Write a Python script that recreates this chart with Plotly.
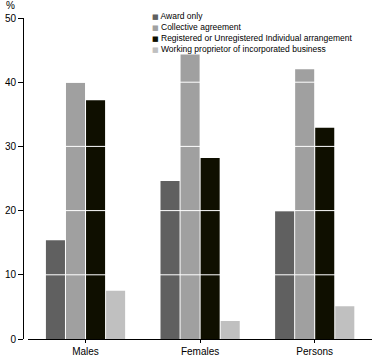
import plotly.graph_objects as go

categories = ["Males", "Females", "Persons"]
series_names = [
    "Award only",
    "Collective agreement",
    "Registered or Unregistered Individual arrangement",
    "Working proprietor of incorporated business",
]
award_only = [15.4, 24.6, 19.9]
collective = [39.9, 44.3, 42.0]
registered = [37.2, 28.2, 32.9]
working_prop = [7.5, 2.8, 5.1]
y_ticks = [0, 10, 20, 30, 40, 50]

colors = ["#606060", "#a0a0a0", "#0f0f00", "#c0c0c0"]
values = [award_only, collective, registered, working_prop]

FONT = "Liberation Sans Narrow, Liberation Sans, Arial"

fig = go.Figure()
for name, vals, col in zip(series_names, values, colors):
    fig.add_trace(go.Bar(x=categories, y=vals, name=name, marker=dict(color=col, line=dict(width=0)),
                         showlegend=False))

# white gridlines drawn over the bars
for t in y_ticks[1:-1]:
    fig.add_shape(type="line", xref="x domain", yref="y", x0=0, x1=1, y0=t, y1=t,
                  line=dict(color="white", width=1), layer="above")

# compact legend built as text
legend_lines = [
    f'<span style="color:{c};font-family:DejaVu Sans;font-size:7px">■</span> {n}'
    for n, c in zip(series_names, colors)
]
fig.add_annotation(text="<br>".join(legend_lines), xref="paper", yref="paper",
                   x=0.365, y=1.028, xanchor="left", yanchor="top", align="left",
                   showarrow=False, font=dict(size=8.5, family=FONT))

fig.update_layout(
    width=378, height=359,
    margin=dict(l=23, r=6, t=18, b=20, autoexpand=False),
    plot_bgcolor="white", paper_bgcolor="white",
    barmode="group", bargap=0.3, bargroupgap=0.05,
    font=dict(family=FONT, size=10, color="black"),
    showlegend=False,
    xaxis=dict(domain=[0.015, 1], showline=True, linecolor="black", linewidth=1,
               ticks="outside", ticklen=3, tickcolor="black", showgrid=False,
               tickfont=dict(size=10), automargin=False),
    yaxis=dict(range=[0, 50], tickvals=y_ticks, showline=True, linecolor="black", linewidth=1,
               ticks="outside", ticklen=5, tickcolor="black", showgrid=False,
               anchor="free", position=0, tickfont=dict(size=10), zeroline=False,
               automargin=False),
)
fig.add_annotation(text="%", xref="paper", yref="paper", x=-0.035, y=1.0, yshift=5,
                   xanchor="center", yanchor="bottom", showarrow=False, font=dict(size=10))

fig.write_html("out.html", config={"displayModeBar": False},
               post_script="document.body.style.margin='0';")
